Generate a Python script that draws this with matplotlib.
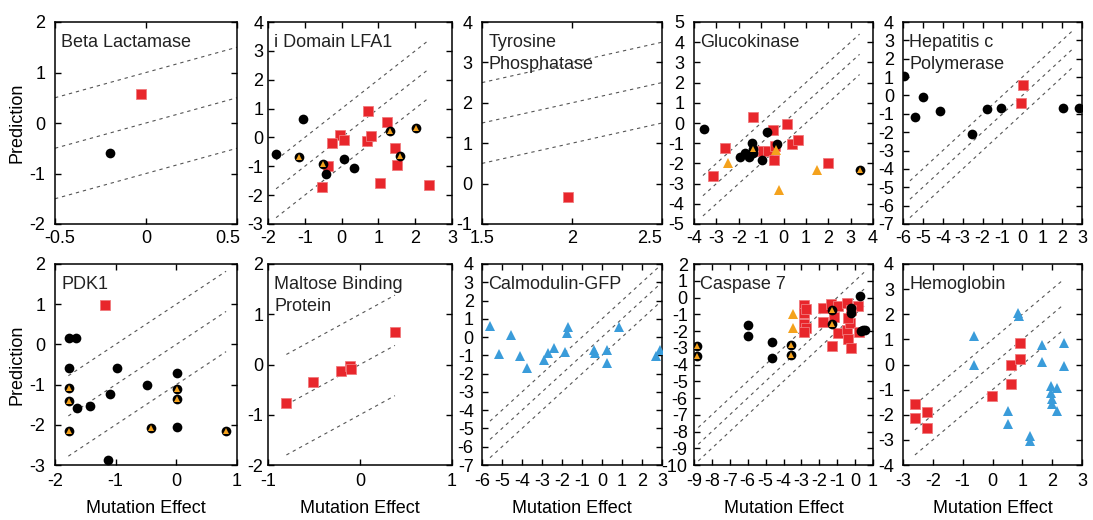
import matplotlib
matplotlib.use('Agg')
import matplotlib.pyplot as plt
from matplotlib.ticker import FuncFormatter
from matplotlib.transforms import ScaledTranslation

plt.rcParams['font.family'] = ['Liberation Sans', 'DejaVu Sans']
plt.rcParams['axes.unicode_minus'] = False

# (mutation effect, prediction) pairs per protein, grouped by marker type
beta_black = [(-0.20, -0.60)]
beta_red = [(-0.03, 0.58)]

lfa1_black = [(-1.78, -0.59), (-1.04, 0.64), (-0.43, -1.28), (0.07, -0.74), (0.34, -1.06)]
lfa1_ring = [(-1.16, -0.67), (-0.50, -0.92), (1.32, 0.23), (1.59, -0.64), (2.02, 0.33)]
lfa1_red = [(0.73, 0.91), (-0.04, 0.09), (0.07, -0.09), (-0.25, -0.21), (-0.36, -0.99),
            (-0.53, -1.71), (0.68, -0.14), (0.79, 0.04), (1.23, 0.55), (1.46, -0.37),
            (1.50, -0.94), (1.04, -1.58), (2.38, -1.65)]

tyr_red = [(1.98, -0.33)]

gluco_black = [(-3.57, -0.32), (-1.94, -1.68), (-1.72, -1.48), (-1.54, -1.70), (-1.35, -1.48),
               (-1.42, -1.00), (-0.75, -0.47), (-0.95, -1.85), (-0.28, -1.05)]
gluco_ring = [(-1.35, -1.30), (3.44, -2.31)]
gluco_orange = [(-2.46, -1.97), (-0.35, -1.32), (-0.19, -3.34), (1.48, -2.35)]
gluco_red = [(-1.37, 0.29), (-2.61, -1.22), (-3.13, -2.60), (-1.19, -1.38), (-0.90, -1.40),
             (-0.68, -1.40), (-0.46, -0.36), (-0.42, -1.84), (-0.36, -1.15), (0.15, -0.07),
             (0.36, -1.03), (0.63, -0.82), (1.97, -1.99)]

hcv_black = [(-5.95, 1.04), (-5.39, -1.15), (-4.99, -0.09), (-4.15, -0.86), (-2.55, -2.11),
             (-1.79, -0.73), (-1.05, -0.66), (2.03, -0.69), (2.86, -0.67)]
hcv_red = [(0.03, 0.55), (-0.06, -0.40)]

pdk1_red = [(-1.17, 0.97)]
pdk1_black = [(-1.77, 0.16), (-1.65, 0.15), (-1.77, -0.58), (-1.64, -1.57), (-1.42, -1.52),
              (-1.09, -1.24), (-0.97, -0.58), (-0.49, -1.00), (0.01, -0.71), (0.01, -2.06),
              (-1.12, -2.88)]
pdk1_ring = [(-1.77, -1.08), (-1.77, -1.41), (-1.77, -2.15), (0.01, -1.11), (0.01, -1.37),
             (-0.41, -2.09), (0.82, -2.15)]

mbp_red = [(-0.80, -0.77), (-0.51, -0.34), (-0.21, -0.12), (-0.11, -0.03), (-0.10, -0.09),
           (0.38, 0.65)]

calm_blue = [(-5.58, 0.63), (-5.13, -0.95), (-4.55, 0.11), (-4.08, -1.06), (-3.74, -1.67),
             (-2.88, -1.27), (-2.71, -0.86), (-2.41, -0.62), (-1.84, -0.82), (-1.74, 0.21),
             (-1.71, 0.56), (-0.40, -0.73), (-0.34, -0.86), (0.26, -0.71), (0.25, -1.40),
             (0.83, 0.54), (2.68, -1.04), (2.90, -0.69)]

casp_red = [(-2.83, -0.46), (-2.83, -0.95), (-2.72, -0.70), (-2.83, -1.60), (-2.72, -1.83),
            (-2.83, -2.03), (-1.80, -0.62), (-1.80, -1.48), (-1.34, -0.36), (-1.20, -1.15),
            (-0.93, -0.52), (-0.47, -0.30), (0.17, -0.50), (-0.93, -2.09), (-0.47, -1.94),
            (-0.29, -1.54), (-0.38, -2.47), (-0.25, -3.01), (-1.27, -2.88), (0.23, -2.03),
            (-0.25, -0.75), (-0.38, -1.24)]
casp_black = [(-6.0, -1.66), (-6.0, -2.27), (-4.65, -2.66), (-4.65, -3.60), (-0.25, -0.60),
              (-0.22, -0.91), (0.30, 0.07), (0.32, -1.99), (0.45, -1.96), (0.55, -1.93)]
casp_ring = [(-8.85, -2.92), (-8.85, -3.47), (-3.6, -2.86), (-3.6, -3.41), (-1.27, -0.76),
             (-1.27, -1.60)]
casp_orange = [(-3.45, -0.99), (-3.45, -1.82)]

hb_red = [(-2.59, -1.58), (-2.59, -2.12), (-2.19, -1.91), (-2.19, -2.51), (-0.02, -1.27),
          (0.63, -0.76), (0.61, -0.03), (0.93, 0.23), (0.93, 0.84)]
hb_blue = [(-0.63, 1.13), (-0.63, -0.03), (0.85, 2.03), (0.88, 1.92), (0.53, -1.86),
           (0.53, -2.35), (1.27, -2.84), (1.27, -3.04), (1.67, 0.76), (1.67, 0.08),
           (2.40, 0.84), (2.40, -0.05), (1.97, -0.87), (2.17, -0.92), (1.97, -1.12),
           (2.00, -1.36), (2.00, -1.57), (2.17, -1.85)]

# y = x + offset guide lines
band_offsets = [1, 0, -1]

names = ['Beta Lactamase', 'i Domain LFA1', 'Tyrosine\nPhosphatase', 'Glucokinase',
         'Hepatitis c\nPolymerase', 'PDK1', 'Maltose Binding\nProtein', 'Calmodulin-GFP',
         'Caspase 7', 'Hemoglobin']
xlims = [(-0.5, 0.5), (-2, 3), (1.5, 2.5), (-4, 4), (-6, 3),
         (-2, 1), (-1, 1), (-6, 3), (-9, 1), (-3, 3)]
ylims = [(-2, 2), (-3, 4), (-1, 4), (-5, 5), (-7, 4),
         (-3, 2), (-2, 2), (-7, 4), (-10, 2), (-4, 4)]
xsteps = [0.5, 1, 0.5, 1, 1, 1, 1, 1, 1, 1]
spans = [(-0.5, 0.5), (-1.78, 2.32), (1.5, 2.5), (-3.6, 3.4), (-5.65, 2.6),
         (-1.78, 0.82), (-0.8, 0.38), (-5.6, 3.0), (-8.76, 0.5), (-2.6, 2.3)]

series = [
    {'red': beta_red, 'black': beta_black},
    {'red': lfa1_red, 'black': lfa1_black, 'ring': lfa1_ring},
    {'red': tyr_red},
    {'red': gluco_red, 'black': gluco_black, 'ring': gluco_ring, 'orange': gluco_orange},
    {'red': hcv_red, 'black': hcv_black},
    {'red': pdk1_red, 'black': pdk1_black, 'ring': pdk1_ring},
    {'red': mbp_red},
    {'blue': calm_blue},
    {'red': casp_red, 'black': casp_black, 'ring': casp_ring, 'orange': casp_orange},
    {'red': hb_red, 'blue': hb_blue},
]

RED = '#e8262b'
ORANGE = '#f4a21d'
BLUE = '#3a9cda'

W, H = 1093, 520
cols = [(55, 237), (268, 452), (482, 662), (694, 873), (903, 1082)]
rows = [(22, 224), (264, 465)]
# gap between left spine and y tick labels (points)
ypads = [7, 3.5, 7, 7, 6.5, 7, 3.5, 6, 4.5, 6.5]
# nudges (px) for the end x tick labels so they stay inside the frame
edge_nudge = {0: (5, -9), 2: (0, -12)}

fig = plt.figure(figsize=(W / 100, H / 100), dpi=100)
fmt = FuncFormatter(lambda v, p: '{:g}'.format(round(v, 3)))

for i in range(10):
    r, c = divmod(i, 5)
    x0, x1 = cols[c]
    top, bot = rows[r]
    ax = fig.add_axes([x0 / W, 1 - bot / H, (x1 - x0) / W, (bot - top) / H])

    lo, hi = spans[i]
    for off in band_offsets:
        ax.plot([lo, hi], [lo + off, hi + off], color='#555555', lw=0.8,
                dashes=(3, 3.5), zorder=1)

    s = series[i]
    if 'red' in s:
        xs, ys = zip(*s['red'])
        ax.plot(xs, ys, 's', color=RED, mec='#f07a7d', mew=0.6, ms=6.5, zorder=2)
    if 'black' in s:
        xs, ys = zip(*s['black'])
        ax.plot(xs, ys, 'o', color='black', ms=7, mew=0, zorder=3)
    if 'ring' in s:
        xs, ys = zip(*s['ring'])
        ax.plot(xs, ys, 'o', color='black', ms=7, mew=0, zorder=3)
        ax.plot(xs, ys, '^', color=ORANGE, ms=5, mew=0, zorder=4)
    if 'orange' in s:
        xs, ys = zip(*s['orange'])
        ax.plot(xs, ys, '^', color=ORANGE, ms=6.5, mew=0, zorder=4)
    if 'blue' in s:
        xs, ys = zip(*s['blue'])
        ax.plot(xs, ys, '^', color=BLUE, ms=6.5, mew=0, zorder=4)

    ax.set_xlim(*xlims[i])
    ax.set_ylim(*ylims[i])
    step = xsteps[i]
    a, b = xlims[i]
    n = int(round((b - a) / step))
    ax.set_xticks([a + k * step for k in range(n + 1)])
    ya, yb = ylims[i]
    ax.set_yticks(list(range(ya, yb + 1)))
    ax.xaxis.set_major_formatter(fmt)
    ax.yaxis.set_major_formatter(fmt)
    ax.tick_params(direction='in', top=True, right=True, length=4, width=1,
                   labelsize=13)
    ax.tick_params(axis='x', pad=4.5 if r == 0 else 6)
    ax.tick_params(axis='y', pad=ypads[i])
    for sp in ax.spines.values():
        sp.set_linewidth(1.1)

    if i in edge_nudge:
        dl, dr = edge_nudge[i]
        labels = ax.get_xticklabels()
        for lab, dx in ((labels[0], dl), (labels[-1], dr)):
            lab.set_transform(lab.get_transform() +
                              ScaledTranslation(dx / 100, 0, fig.dpi_scale_trans))

    ax.text(0.035, 0.94, names[i], transform=ax.transAxes, ha='left', va='top',
            fontsize=13, linespacing=1.4, color='#222222')

    if c == 0:
        ax.set_ylabel('Prediction', fontsize=13, labelpad=3)
    if r == 1:
        ax.set_xlabel('Mutation Effect', fontsize=13, labelpad=7)

fig.savefig('out.png', dpi=100)
